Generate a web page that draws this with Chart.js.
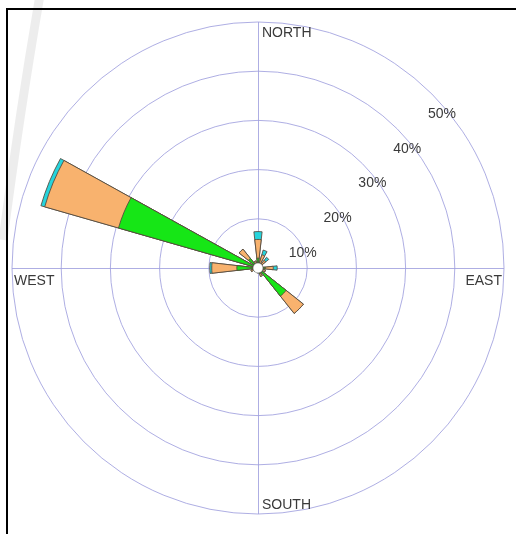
<!DOCTYPE html>
<html>
<head>
<meta charset="utf-8">
<title>Wind rose</title>
<script src="https://cdn.jsdelivr.net/npm/chart.js@4/dist/chart.umd.min.js"></script>
<style>
  html, body { margin: 0; padding: 0; background: #fff; }
  #wrap { position: relative; width: 516px; height: 534px; }
</style>
</head>
<body>
<div id="wrap"><canvas id="rose" width="516" height="534"></canvas></div>
<script>
// Sixteen compass sectors, clockwise from north
const directions = ['N', 'NNE', 'NE', 'ENE', 'E', 'ESE', 'SE', 'SSE',
                    'S', 'SSW', 'SW', 'WSW', 'W', 'WNW', 'NW', 'NNW'];

// Frequency (% of time) per sector, split by wind speed class
const lowSpeed  = [2.0, 1.0, 0.8, 0.6, 1.5, 0.8, 7.3, 1.2, 1.0, 0.8, 1.0, 1.0, 4.3, 29.5, 2.5, 1.0];
const midSpeed  = [3.8, 1.8, 1.2, 0.4, 1.6, 0.8, 4.5, 0.6, 0.0, 0.0, 0.0, 0.5, 5.1, 15.6, 2.4, 0.5];
const highSpeed = [1.6, 1.0, 0.8, 0.0, 0.8, 0.0, 0.0, 0.0, 0.0, 0.0, 0.0, 0.0, 0.4, 0.8, 0.0, 0.0];

// Ring labels and compass labels
const tickValues = [10, 20, 30, 40, 50];
const tickLabels = ['10%', '20%', '30%', '40%', '50%'];
const compassLabels = ['NORTH', 'EAST', 'SOUTH', 'WEST'];

const SECTOR = 360 / directions.length;   // 22.5 degrees per sector
const WEDGE = 13;                          // drawn width of each petal
const GAP = SECTOR - WEDGE;

const COLORS = { low: '#16e616', mid: '#f8b26e', high: '#26d4dc' };
const GRID = 'rgba(160,160,222,0.85)';
const TEXT = '#3a3a3a';
const FONT = '14px "Liberation Sans", Arial, sans-serif';

// Petals are stacked by drawing cumulative totals, largest underneath.
function cumulative(...series) {
  return directions.map((_, i) => series.reduce((s, arr) => s + arr[i], 0));
}
// Each petal is followed by an empty slot so petals are narrower than their sector.
function withGaps(values) {
  const out = [];
  values.forEach(v => { out.push(v); out.push(0); });
  return out;
}
const slotLabels = withGaps(directions).map(v => (v === 0 ? '' : v));

function petalDataset(label, values, color) {
  return {
    label,
    data: withGaps(values),
    backgroundColor: color,
    borderColor: 'rgba(85,72,60,0.85)',
    borderWidth: ctx => (ctx.dataIndex % 2 === 0 && ctx.raw > 0 ? 1 : 0),
    angle: ctx => (ctx.dataIndex % 2 === 0 ? WEDGE : GAP)
  };
}

const roseDecor = {
  id: 'roseDecor',
  beforeDraw(chart) {
    const { ctx, width, height } = chart;
    ctx.save();
    ctx.fillStyle = '#fff';
    ctx.fillRect(0, 0, width, height);
    // faint sweep at the top-left of the page
    ctx.strokeStyle = 'rgba(0,0,0,0.07)';
    ctx.lineWidth = 9;
    ctx.beginPath();
    ctx.moveTo(40, -5);
    ctx.quadraticCurveTo(20, 110, 3, 240);
    ctx.stroke();
    // frame
    ctx.fillStyle = '#000';
    ctx.fillRect(6, 8, width - 6, 2);
    ctx.fillRect(6, 8, 2, height - 8);
    ctx.restore();
  },
  beforeDatasetsDraw(chart) {
    const s = chart.scales.r;
    const { ctx } = chart;
    const R = s.drawingArea;
    ctx.save();
    ctx.strokeStyle = GRID;
    ctx.lineWidth = 1;
    ctx.beginPath();
    ctx.moveTo(s.xCenter + 0.5, s.yCenter - R);
    ctx.lineTo(s.xCenter + 0.5, s.yCenter + R);
    ctx.moveTo(s.xCenter - R, s.yCenter + 0.5);
    ctx.lineTo(s.xCenter + R, s.yCenter + 0.5);
    ctx.stroke();
    ctx.restore();
  },
  afterDatasetsDraw(chart) {
    const s = chart.scales.r;
    const { ctx } = chart;
    const R = s.drawingArea;
    const xc = s.xCenter, yc = s.yCenter;
    ctx.save();
    // calm circle
    ctx.beginPath();
    ctx.arc(xc, yc, 5, 0, Math.PI * 2);
    ctx.fillStyle = '#fff';
    ctx.fill();
    ctx.strokeStyle = 'rgba(90,90,90,0.6)';
    ctx.lineWidth = 0.8;
    ctx.stroke();

    ctx.font = FONT;
    ctx.fillStyle = TEXT;
    ctx.textBaseline = 'middle';
    // ring labels along the north-east diagonal
    ctx.textAlign = 'left';
    tickValues.forEach((v, i) => {
      const r = s.getDistanceFromCenterForValue(v);
      const x = xc + r * Math.SQRT1_2;
      const y = yc - r * Math.SQRT1_2;
      ctx.fillText(tickLabels[i], x - 4, y + 20);
    });
    // compass labels just inside the outer ring
    ctx.textAlign = 'left';
    ctx.fillText(compassLabels[0], xc + 4, yc - R + 11);
    ctx.fillText(compassLabels[2], xc + 4, yc + R - 9);
    ctx.fillText(compassLabels[3], xc - R + 2, yc + 13);
    ctx.textAlign = 'right';
    ctx.fillText(compassLabels[1], xc + R - 2, yc + 13);
    ctx.restore();
  }
};

new Chart(document.getElementById('rose'), {
  type: 'polarArea',
  data: {
    labels: slotLabels,
    datasets: [
      petalDataset('low', cumulative(lowSpeed), COLORS.low),
      petalDataset('mid', cumulative(lowSpeed, midSpeed), COLORS.mid),
      petalDataset('high', cumulative(lowSpeed, midSpeed, highSpeed), COLORS.high)
    ]
  },
  options: {
    responsive: false,
    animation: false,
    devicePixelRatio: 1,
    layout: { padding: { left: 12, top: 22, right: 12, bottom: 20 } },
    plugins: { legend: { display: false }, tooltip: { enabled: false } },
    scales: {
      r: {
        min: 0,
        max: 50,
        startAngle: -WEDGE / 2,
        ticks: { stepSize: 10, display: false },
        grid: { circular: true, color: GRID, lineWidth: 1 },
        angleLines: { display: false },
        pointLabels: { display: false }
      }
    }
  },
  plugins: [roseDecor]
});
</script>
</body>
</html>
